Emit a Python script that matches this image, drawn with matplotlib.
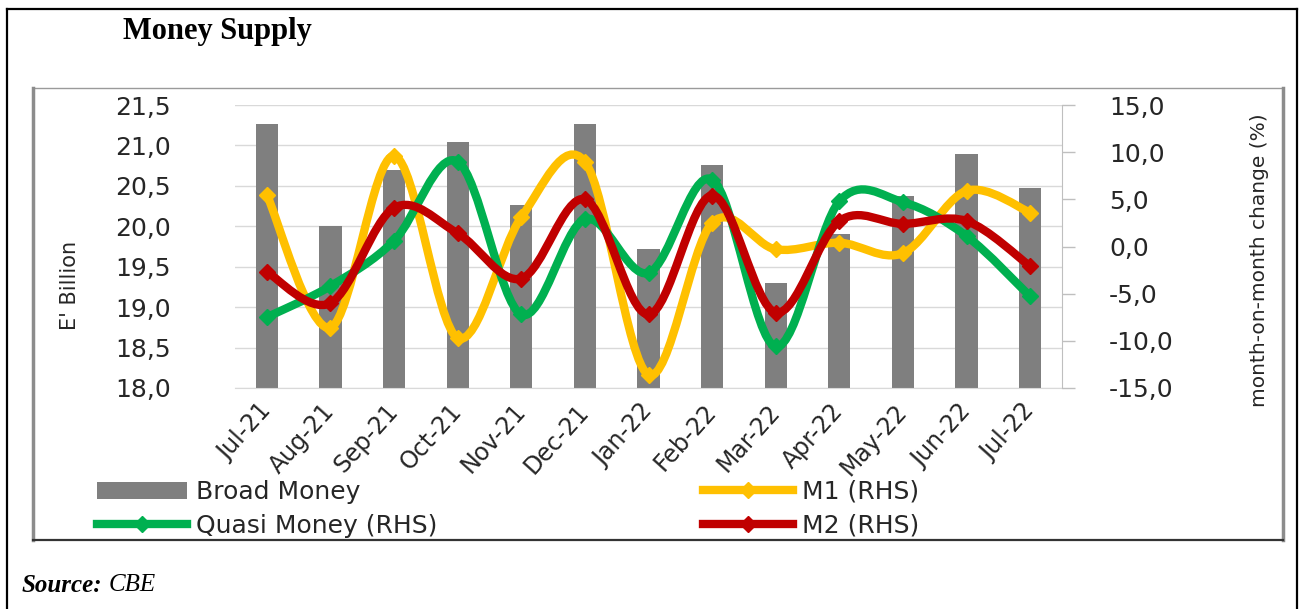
import numpy as np
import matplotlib
matplotlib.use("Agg")
import matplotlib.pyplot as plt
from matplotlib.path import Path
from matplotlib.patches import PathPatch, Patch
from matplotlib.lines import Line2D
from matplotlib.ticker import FuncFormatter, MultipleLocator

# Monthly money supply data
months = ['Jul-21', 'Aug-21', 'Sep-21', 'Oct-21', 'Nov-21', 'Dec-21', 'Jan-22',
          'Feb-22', 'Mar-22', 'Apr-22', 'May-22', 'Jun-22', 'Jul-22']
broad_money = [21.27, 20.00, 20.70, 21.04, 20.26, 21.26, 19.72,
               20.76, 19.30, 19.90, 20.37, 20.89, 20.47]          # E' billion
m1_change = [5.5, -8.6, 9.6, -9.7, 3.1, 9.0, -13.6, 2.5, -0.3, 0.4, -0.7, 5.9, 3.6]
quasi_change = [-7.5, -4.2, 0.6, 9.0, -7.2, 2.9, -2.8, 7.1, -10.6, 4.8, 4.7, 1.1, -5.3]
m2_change = [-2.7, -6.0, 4.1, 1.4, -3.4, 5.0, -7.2, 5.4, -7.0, 2.7, 2.4, 2.7, -2.1]

GRAY = '#7f7f7f'
YELLOW = '#ffc000'
GREEN = '#00b050'
RED = '#c00000'
TEXT = '#262626'
SERIF = ['Liberation Serif', 'DejaVu Serif']

W, H = 1302, 609


def smooth_path(x, y):
    """Catmull-Rom style cubic Bezier through the points (like Excel smoothed lines)."""
    pts = np.column_stack([x, y]).astype(float)
    n = len(pts)
    verts = [pts[0]]
    codes = [Path.MOVETO]
    for i in range(n - 1):
        p0 = pts[max(i - 1, 0)]
        p1 = pts[i]
        p2 = pts[i + 1]
        p3 = pts[min(i + 2, n - 1)]
        verts += [p1 + (p2 - p0) / 6, p2 - (p3 - p1) / 6, p2]
        codes += [Path.CURVE4] * 3
    return Path(verts, codes)


def comma_fmt(v, pos):
    return f'{v:.1f}'.replace('.', ',')


fig = plt.figure(figsize=(W / 100, H / 100), dpi=100)

# frame lines drawn in pixel-based figure fractions
def hline(x0, x1, y, **kw):
    fig.add_artist(Line2D([x0 / W, x1 / W], [1 - y / H, 1 - y / H], **kw))

def vline(x, y0, y1, **kw):
    fig.add_artist(Line2D([x / W, x / W], [1 - y0 / H, 1 - y1 / H], **kw))

# outer page box
hline(7, 1297, 9, color='black', lw=1.6)
vline(7, 9, H + 5, color='black', lw=1.6)
vline(1297, 9, H + 5, color='black', lw=1.6)

# chart image box
hline(33, 1283, 88, color='#9a9a9a', lw=1.0)
vline(33, 88, 540, color='#8c8c8c', lw=2.5)
vline(1283, 88, 540, color='#8c8c8c', lw=2.5)
hline(33, 1283, 540, color='#333333', lw=1.6)

fig.text(217 / W, 1 - 32 / H, 'Money Supply', ha='center', va='center',
         fontsize=22, fontweight='bold', family=SERIF)
src = fig.text(22 / W, 1 - 585 / H, 'Source:', ha='left', va='center', fontsize=18,
               fontweight='bold', fontstyle='italic', family=SERIF)
renderer = fig.canvas.get_renderer()
src_end = src.get_window_extent(renderer).x1
fig.text((src_end + 6) / W, 1 - 585 / H, 'CBE', ha='left', va='center', fontsize=18,
         fontstyle='italic', family=SERIF)

left, right, top, bottom = 235, 1062, 105, 388
ax = fig.add_axes([left / W, 1 - bottom / H, (right - left) / W, (bottom - top) / H])
x = np.arange(len(months))

ax.bar(x, broad_money, width=0.35, color=GRAY, zorder=2)
ax.set_ylim(18.0, 21.5)
ax.set_xlim(-0.5, len(months) - 0.5)
ax.yaxis.set_major_locator(MultipleLocator(0.5))
ax.yaxis.set_major_formatter(FuncFormatter(comma_fmt))
ax.grid(axis='y', color='#d9d9d9', lw=1.0, zorder=0)
ax.set_axisbelow(True)
for side in ['left', 'top', 'right']:
    ax.spines[side].set_visible(False)
ax.spines['bottom'].set_color('#d9d9d9')
ax.tick_params(axis='y', length=0, pad=46, labelsize=18, labelcolor=TEXT)
ax.tick_params(axis='x', length=0, pad=14, labelsize=17, labelcolor=TEXT)
ax.set_xticks(x)
ax.set_xticklabels(months, rotation=48, ha='right', va='center', rotation_mode='anchor')
ax.set_ylabel("E' Billion", fontsize=15, color=TEXT)
ax.yaxis.set_label_coords((80 - left) / (right - left), (bottom - 285) / (bottom - top))

ax2 = ax.twinx()
ax2.set_ylim(-15, 15)
ax2.yaxis.set_major_locator(MultipleLocator(5))
ax2.yaxis.set_major_formatter(FuncFormatter(comma_fmt))
for side in ['left', 'top', 'bottom']:
    ax2.spines[side].set_visible(False)
ax2.spines['right'].set_color('#bfbfbf')
ax2.tick_params(axis='y', length=9, width=1, color='#bfbfbf', direction='out',
                pad=25, labelsize=18, labelcolor=TEXT)
ax2.set_ylabel('month-on-month change (%)', fontsize=14.5, color=TEXT)
ax2.yaxis.set_label_coords((1250 - left) / (right - left), (bottom - 260) / (bottom - top))

series = [('M1 (RHS)', m1_change, YELLOW),
          ('Quasi Money (RHS)', quasi_change, GREEN),
          ('M2 (RHS)', m2_change, RED)]
handles = {}
for i, (label, vals, color) in enumerate(series):
    ax2.add_patch(PathPatch(smooth_path(x, vals), fill=False, edgecolor=color,
                            lw=6, capstyle='round', joinstyle='round', zorder=3 + i))
    ax2.plot(x, vals, linestyle='none', marker='D', markersize=8, color=color,
             zorder=3 + i)
    handles[label] = Line2D([], [], color=color, lw=6, marker='D', markersize=8)

bar_handle = Patch(facecolor=GRAY, edgecolor='none')

leg_kw = dict(frameon=False, fontsize=18, handlelength=3.6, handletextpad=0.35,
              labelspacing=0.4, borderpad=0, borderaxespad=0, loc='upper left',
              labelcolor=TEXT)
leg1 = fig.legend([bar_handle, handles['Quasi Money (RHS)']],
                  ['Broad Money', 'Quasi Money (RHS)'],
                  bbox_to_anchor=(97 / W, 1 - 480 / H), **leg_kw)
leg2 = fig.legend([handles['M1 (RHS)'], handles['M2 (RHS)']],
                  ['M1 (RHS)', 'M2 (RHS)'],
                  bbox_to_anchor=(703 / W, 1 - 480 / H), **leg_kw)

fig.savefig('out.png', dpi=100)
